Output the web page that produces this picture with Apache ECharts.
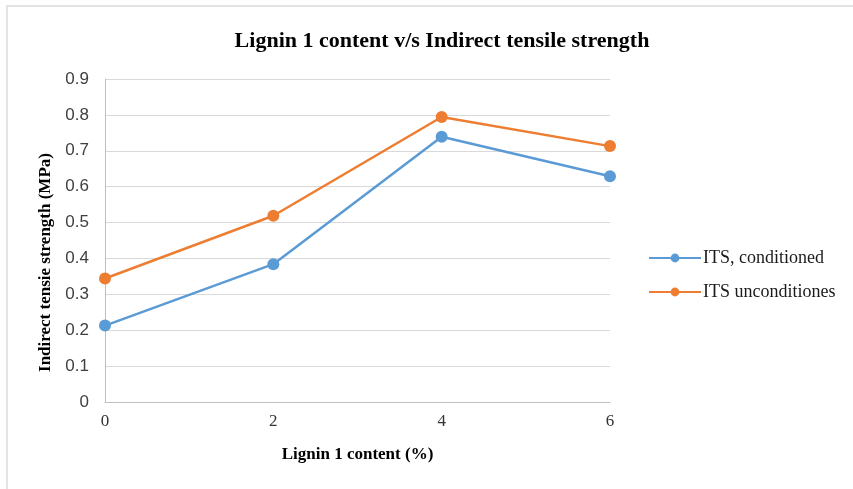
<!DOCTYPE html>
<html>
<head>
<meta charset="utf-8">
<script src="https://cdn.jsdelivr.net/npm/echarts@6/dist/echarts.min.js"></script>
<style>
  html, body { margin: 0; padding: 0; background: #ffffff; }
  #frame { position: absolute; left: 6px; top: 5px; width: 880px; height: 500px; border: 2px solid #e3e3e3; box-sizing: border-box; }
  #chart { position: absolute; left: 0; top: 0; width: 853px; height: 489px; }
</style>
</head>
<body>
<div id="frame"></div>
<div id="chart"></div>
<script>
// Lignin content (%) on the x axis
const ligninContent = [0, 2, 4, 6];
// Indirect tensile strength (MPa)
const itsConditioned = [0.213, 0.384, 0.739, 0.629];
const itsUnconditioned = [0.344, 0.519, 0.794, 0.713];
const seriesNames = ['ITS, conditioned', 'ITS unconditiones'];
const yTicks = ['0', '0.1', '0.2', '0.3', '0.4', '0.5', '0.6', '0.7', '0.8', '0.9'];

const serif = '"Liberation Serif", "DejaVu Serif", serif';
const sans = '"Liberation Sans", "DejaVu Sans", sans-serif';
const pair = (xs, ys) => xs.map((x, i) => [x, ys[i]]);

const chart = echarts.init(document.getElementById('chart'), null, { renderer: 'canvas' });
chart.setOption({
  animation: false,
  title: {
    text: 'Lignin 1 content v/s Indirect tensile strength',
    left: 437, top: 25, textAlign: 'center',
    textStyle: { fontFamily: serif, fontWeight: 'bold', fontSize: 22, color: '#000000' }
  },
  grid: { left: 105, right: 243, top: 79, bottom: 87 },
  legend: {
    orient: 'vertical', left: 643, top: 244, itemGap: 16,
    itemWidth: 52, itemHeight: 11,
    data: seriesNames,
    textStyle: { fontFamily: serif, fontSize: 18, color: '#1a1a1a', padding: [0, 0, 0, -3] }
  },
  xAxis: {
    type: 'value', min: 0, max: 6, interval: 2,
    name: 'Lignin 1 content (%)', nameLocation: 'middle', nameGap: 44,
    nameTextStyle: { fontFamily: serif, fontWeight: 'bold', fontSize: 17, color: '#000000' },
    axisLine: { show: true, lineStyle: { color: '#bfbfbf', width: 1 } },
    axisTick: { show: false },
    splitLine: { show: false },
    axisLabel: { fontFamily: serif, fontSize: 17, color: '#333333', margin: 11 }
  },
  yAxis: {
    type: 'value', min: 0, max: 0.9, interval: 0.1,
    name: 'Indirect tensie strength (MPa)', nameLocation: 'middle', nameGap: 48, nameRotate: 90,
    nameTextStyle: { fontFamily: serif, fontWeight: 'bold', fontSize: 17, color: '#000000', padding: [0, 44, 0, 0] },
    axisLine: { show: true, lineStyle: { color: '#bfbfbf', width: 1 } },
    axisTick: { show: false },
    splitLine: { show: true, lineStyle: { color: '#d9d9d9', width: 1 } },
    axisLabel: {
      fontFamily: sans, fontSize: 17, color: '#404040', margin: 16,
      formatter: v => yTicks[Math.round(v * 10)]
    }
  },
  series: [
    {
      name: seriesNames[0], type: 'line', data: pair(ligninContent, itsConditioned),
      symbol: 'circle', symbolSize: 12,
      lineStyle: { color: '#5b9bd5', width: 2.5 },
      itemStyle: { color: '#5b9bd5' }
    },
    {
      name: seriesNames[1], type: 'line', data: pair(ligninContent, itsUnconditioned),
      symbol: 'circle', symbolSize: 12,
      lineStyle: { color: '#ed7d31', width: 2.5 },
      itemStyle: { color: '#ed7d31' }
    }
  ]
});
</script>
</body>
</html>
